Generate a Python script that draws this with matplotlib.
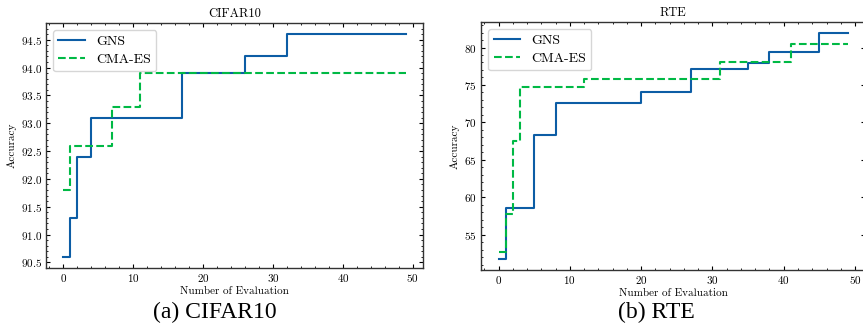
import numpy as np
import matplotlib
matplotlib.use("Agg")
import matplotlib.pyplot as plt

# CIFAR10 best accuracy so far, step changes (x = evaluation index)
cifar_gns_x = [0, 1, 2, 4, 17, 26, 32, 49]
cifar_gns_y = [90.6, 91.3, 92.4, 93.1, 93.9, 94.2, 94.6, 94.6]
cifar_cma_x = [0, 1, 7, 11, 49]
cifar_cma_y = [91.8, 92.6, 93.3, 93.9, 93.9]

# RTE
rte_gns_x = [0, 1, 5, 8, 20, 27, 35, 38, 45, 49]
rte_gns_y = [51.8, 58.6, 68.3, 72.6, 74.0, 77.1, 77.9, 79.4, 81.9, 81.9]
rte_cma_x = [0, 1, 2, 3, 12, 31, 41, 49]
rte_cma_y = [52.7, 57.8, 67.5, 74.7, 75.8, 78.0, 80.5, 80.5]

plt.rcParams['font.family'] = ['cmr10', 'DejaVu Serif']
plt.rcParams['axes.formatter.use_mathtext'] = True
plt.rcParams['mathtext.fontset'] = 'cm'
plt.rcParams['xtick.direction'] = 'in'
plt.rcParams['ytick.direction'] = 'in'
plt.rcParams['xtick.top'] = True
plt.rcParams['ytick.right'] = True
plt.rcParams['xtick.minor.visible'] = True
plt.rcParams['ytick.minor.visible'] = True
plt.rcParams['xtick.major.size'] = 3
plt.rcParams['ytick.major.size'] = 3
plt.rcParams['xtick.minor.size'] = 1.5
plt.rcParams['ytick.minor.size'] = 1.5
plt.rcParams['axes.linewidth'] = 1.0
plt.rcParams['axes.edgecolor'] = '#333333'

blue = '#0C5DA5'
green = '#00B945'

fig = plt.figure(figsize=(8.63, 3.24), dpi=100)
ax1 = fig.add_axes([0.0533, 0.1728, 0.4368, 0.7562])
ax2 = fig.add_axes([0.5574, 0.1667, 0.4454, 0.7654])

panels = [
    (ax1, cifar_gns_x, cifar_gns_y, cifar_cma_x, cifar_cma_y, "CIFAR10"),
    (ax2, rte_gns_x, rte_gns_y, rte_cma_x, rte_cma_y, "RTE"),
]
for ax, gx, gy, cx, cy, name in panels:
    ax.step(gx, gy, where='post', color=blue, lw=1.5, label='GNS')
    ax.step(cx, cy, where='post', color=green, lw=1.5, ls='--', label='CMA-ES')
    ax.set_title(name, fontsize=9, pad=4)
    ax.set_xlabel("Number of Evaluation", fontsize=8, labelpad=2)
    ax.set_ylabel("Accuracy", fontsize=8, labelpad=3)
    ax.tick_params(labelsize=8, pad=3)
    ax.set_xticks([0, 10, 20, 30, 40, 50])
    ax.legend(loc='upper left', fontsize=10, fancybox=True, framealpha=0.8,
              handlelength=1.9, borderpad=0.4, labelspacing=0.35)

ax1.set_yticks(np.arange(90.5, 94.51, 0.5))
ax2.set_yticks([55, 60, 65, 70, 75, 80])

fig.text(0.249, 0.018, "(a) CIFAR10", fontsize=17, ha='center', family='Liberation Serif')
fig.text(0.761, 0.018, "(b) RTE", fontsize=17, ha='center', family='Liberation Serif')

fig.savefig("out.png", dpi=100)
